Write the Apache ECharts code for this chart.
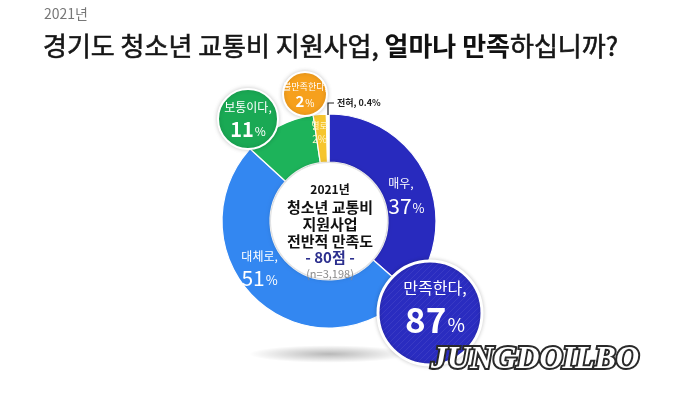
<!DOCTYPE html>
<html>
<head>
<meta charset="utf-8">
<script src="https://cdn.jsdelivr.net/npm/echarts@6/dist/echarts.min.js"></script>
<style>
  html, body { margin: 0; padding: 0; background: #fff; }
  #chart { width: 680px; height: 397px; }
</style>
</head>
<body>
<div id="chart"></div>
<script>
// survey answers, clockwise from 12 o'clock
const categories = ['매우', '대체로', '보통이다', '별로', '전혀'];
const values = [37, 51, 11, 2, 0.4];

// grouped answers shown in the bubbles
const groupLabels = ['만족한다', '보통이다', '불만족한다'];
const groupValues = [87, 11, 2];

const yearLabel = '2021년';
const centerLines = ['2021년', '청소년 교통비', '지원사업', '전반적 만족도'];
const score = 80;
const sampleSize = '3,198';

const FONT = '"Noto Sans CJK KR", "Noto Sans", sans-serif';
const colors = ['#282abe', '#3387f1', '#1db35a', '#f6c52e', '#ffffff'];

const chart = echarts.init(document.getElementById('chart'), null, { renderer: 'canvas' });

// faint diagonal hatching for the big bubble
const hatch = document.createElement('canvas');
hatch.width = 6; hatch.height = 6;
(function () {
    const c = hatch.getContext('2d');
    c.fillStyle = '#2a2cc0';
    c.fillRect(0, 0, 6, 6);
    c.strokeStyle = 'rgba(255,255,255,0.07)';
    c.lineWidth = 1;
    c.beginPath();
    c.moveTo(0, 6); c.lineTo(6, 0);
    c.moveTo(-3, 3); c.lineTo(3, -3);
    c.moveTo(3, 9); c.lineTo(9, 3);
    c.stroke();
})();

const cx = 329, cy = 221;

// inside label nudges (dx, dy)
const labelShift = [[-1, 10], [-12, -17], null, [-2, -3], null];

function bubble(x, y, r, color, label, value, sizes) {
    return {
        type: 'group',
        z: 30,
        children: [
            {
                type: 'circle',
                z: 30,
                shape: { cx: x, cy: y, r: r },
                style: {
                    fill: color, stroke: '#fff', lineWidth: sizes.border,
                    shadowBlur: 4, shadowColor: 'rgba(0,0,0,0.18)'
                }
            },
            {
                type: 'text',
                z: 31,
                x: x + sizes.dx,
                y: y + sizes.dy,
                style: {
                    text: '{n|' + label + ',}\n{v|' + value + '}{p|%}',
                    align: 'center',
                    verticalAlign: 'middle',
                    fill: '#fff',
                    rich: {
                        n: { fontFamily: FONT, fontSize: sizes.n, fill: '#fff', lineHeight: sizes.lh1 },
                        v: { fontFamily: FONT, fontSize: sizes.v, fontWeight: 'bold', fill: '#fff', lineHeight: sizes.lh2 },
                        p: { fontFamily: FONT, fontSize: sizes.p, fill: '#fff', lineHeight: sizes.lh2, padding: [sizes.pp, 0, 0, 1] }
                    }
                }
            }
        ]
    };
}

const pieData = categories.map((name, i) => {
    const item = { name: name, value: values[i], itemStyle: { color: colors[i] } };
    if (i === 2 || i === 4) item.label = { show: false };
    return item;
});

const option = {
    backgroundColor: '#ffffff',
    animation: false,
    series: [
        {
            type: 'pie',
            center: [cx, cy],
            radius: [59, 107],
            startAngle: 90,
            clockwise: true,
            z: 2,
            itemStyle: { borderColor: '#fff', borderWidth: 1.2 },
            label: {
                show: true,
                position: 'inside',
                formatter: p => {
                    if (p.dataIndex === 3) return '{sn|' + p.name + '}\n{sv|' + p.value + '%}';
                    if (p.dataIndex === 0) return '{nl|' + p.name + ',}\n{v|' + p.value + '}{p|%}';
                    return '{n|' + p.name + ',}\n{v|' + p.value + '}{p|%}';
                },
                rich: {
                    n: { fontFamily: FONT, fontSize: 12, color: '#fff', lineHeight: 20 },
                    nl: { fontFamily: FONT, fontSize: 12, color: '#fff', lineHeight: 20, align: 'left' },
                    v: { fontFamily: FONT, fontSize: 21, color: '#fff', lineHeight: 24 },
                    p: { fontFamily: FONT, fontSize: 13, color: '#fff', lineHeight: 24, padding: [4, 0, 0, 1] },
                    sn: { fontFamily: FONT, fontSize: 9, color: '#fff6c8', lineHeight: 13 },
                    sv: { fontFamily: FONT, fontSize: 10, color: '#fff6c8', lineHeight: 13 }
                }
            },
            labelLine: { show: false },
            labelLayout: p => {
                const s = labelShift[p.dataIndex];
                return s ? { dx: s[0], dy: s[1] } : {};
            },
            data: pieData
        }
    ],
    graphic: [
        // small year above the title
        {
            type: 'text', x: 44, y: 14, z: 40,
            style: { text: yearLabel, font: '14px ' + FONT, fill: '#777', verticalAlign: 'middle' }
        },
        // title
        {
            type: 'text', x: 43, y: 46, z: 40,
            style: {
                text: '{a|경기도 청소년 교통비 지원사업, }{b|얼마나 만족}{a|하십니까?}',
                verticalAlign: 'middle',
                rich: {
                    a: { fontFamily: FONT, fontSize: 26, fill: '#151515', stroke: '#151515', lineWidth: 0.6 },
                    b: { fontFamily: FONT, fontSize: 26, fontWeight: 'bold', fill: '#111' }
                }
            }
        },
        // soft floor shadow
        {
            type: 'circle', x: cx, y: 354, scaleY: 0.11, z: 0,
            shape: { cx: 0, cy: 0, r: 80 },
            style: {
                fill: {
                    type: 'radial', x: 0.5, y: 0.5, r: 0.5,
                    colorStops: [
                        { offset: 0, color: 'rgba(0,0,0,0.28)' },
                        { offset: 1, color: 'rgba(0,0,0,0)' }
                    ]
                }
            }
        },
        // white centre disc
        {
            type: 'circle', z: 10,
            shape: { cx: cx, cy: cy, r: 58 },
            style: { fill: '#fff', shadowBlur: 5, shadowColor: 'rgba(0,0,0,0.25)' }
        },
        ...centerLines.map((t, i) => ({
            type: 'text', z: 11, x: cx + 1, y: 190 + i * 17 - (i === 0 ? 1 : 0),
            style: {
                text: t,
                font: (i === 0 ? 'bold 12px ' : 'bold 15px ') + FONT,
                fill: '#111', align: 'center', verticalAlign: 'middle'
            }
        })),
        {
            type: 'text', z: 11, x: cx + 1, y: 257,
            style: { text: '- ' + score + '점 -', font: 'bold 15px ' + FONT, fill: '#2c2f8e', align: 'center', verticalAlign: 'middle' }
        },
        {
            type: 'text', z: 11, x: cx + 1, y: 274,
            style: { text: '(n=' + sampleSize + ')', font: '11px ' + FONT, fill: '#8a8a8a', align: 'center', verticalAlign: 'middle' }
        },
        // leader for the tiny slice
        {
            type: 'polyline', z: 12,
            shape: { points: [[328, 115], [328, 103], [334, 103]] },
            style: { stroke: '#222', lineWidth: 1.2, fill: null }
        },
        {
            type: 'text', z: 12, x: 337, y: 103,
            style: { text: categories[4] + ', ' + values[4] + '%', font: 'bold 9px ' + FONT, fill: '#222', verticalAlign: 'middle' }
        },
        // bubbles
        bubble(248, 119, 30, '#1aa954', groupLabels[1], groupValues[1],
            { border: 2, dx: 0, dy: 0, n: 12, v: 20, p: 12, lh1: 20, lh2: 24, pp: 4 }),
        bubble(305, 94, 22, '#f6a01d', groupLabels[2], groupValues[2],
            { border: 2, dx: 0, dy: 1, n: 9, v: 15, p: 10, lh1: 13, lh2: 17, pp: 3 }),
        bubble(430, 313, 52, { image: hatch, repeat: 'repeat' }, groupLabels[0], groupValues[0],
            { border: 3, dx: 5, dy: -6, n: 16, v: 35, p: 19, lh1: 26, lh2: 38, pp: 9 }),
        // watermark
        {
            type: 'text', z: 50, x: 431, y: 360,
            style: {
                text: 'JUNGDOILBO',
                font: 'italic bold 32px "Liberation Serif", serif',
                fill: '#fff',
                stroke: '#2a2a2a',
                lineWidth: 4,
                verticalAlign: 'middle',
                shadowBlur: 4,
                shadowColor: 'rgba(0,0,0,0.6)',
                shadowOffsetX: 2,
                shadowOffsetY: 2
            }
        }
    ]
};

chart.setOption(option);
</script>
</body>
</html>
